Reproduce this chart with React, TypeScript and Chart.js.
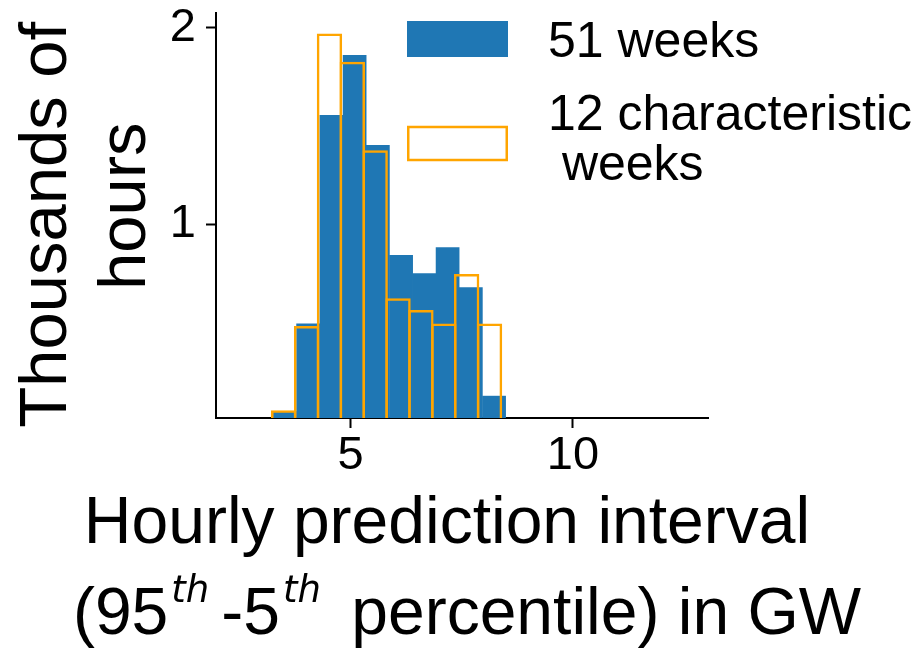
import React, { useEffect, useRef } from "react";
import { Chart, registerables } from "chart.js";

Chart.register(...registerables);

// ---- data (thousands of hours per bin) ----
const blueBinCenters = [3.520, 4.043, 4.566, 5.089, 5.612, 6.135, 6.658, 7.181, 7.704, 8.227];
const blueHeights = [0.050, 0.496, 1.556, 1.861, 1.403, 0.844, 0.751, 0.883, 0.680, 0.128];
const orangeBinCenters = [3.493, 4.008, 4.523, 5.037, 5.552, 6.066, 6.581, 7.096, 7.610, 8.125];
const orangeHeights = [0.055, 0.483, 1.971, 1.827, 1.377, 0.624, 0.564, 0.496, 0.747, 0.496];

const xTickValues = [5, 10];
const yTickValues = [1, 2];
const xRange = [1.97, 13.04];
const yRange = [0.015, 2.075];

const seriesLabels = ["51 weeks", "12 characteristic\n weeks"];
const yTitleLines = ["Thousands of ", " hours"];
const xTitleLine1 = "Hourly prediction interval";
const xTitleLine2 = [
  { text: "(95", sup: false },
  { text: "th", sup: true },
  { text: "-5", sup: false },
  { text: "th", sup: true },
  { text: " percentile) in GW", sup: false },
];

const BLUE = "#1f77b4";
const ORANGE = "#ffa500";
const FONT = '"Liberation Sans", Arial, sans-serif';

const legendAndTitlePlugin = {
  id: "legendAndTitle",
  afterDraw(chart: any) {
    const ctx = chart.ctx;
    const ca = chart.chartArea;
    ctx.save();
    ctx.fillStyle = "#000";
    ctx.textBaseline = "alphabetic";

    // ---- x-axis title ----
    const cx = (ca.left + ca.right) / 2;
    ctx.font = `66px ${FONT}`;
    ctx.textAlign = "center";
    ctx.fillText(xTitleLine1, cx - 15, ca.bottom + 125);

    ctx.textAlign = "left";
    const mainFont = `66px ${FONT}`;
    const supFont = `italic 37px "DejaVu Sans", sans-serif`;
    const widths = xTitleLine2.map((p) => {
      ctx.font = p.sup ? supFont : mainFont;
      return ctx.measureText(p.text).width + (p.sup ? 3 + 12 : 0);
    });
    const total = widths.reduce((a, b) => a + b, 0);
    let x = cx + 5 - total / 2;
    const base2 = ca.bottom + 215.5;
    xTitleLine2.forEach((p, i) => {
      if (p.sup) {
        ctx.font = supFont;
        ctx.fillText(p.text, x + 3, base2 - 32);
      } else {
        ctx.font = mainFont;
        ctx.fillText(p.text, x, base2);
      }
      x += widths[i];
    });

    // ---- legend ----
    const boxLeft = ca.left + 191;
    const boxW = 101;
    const textX = ca.left + 332;
    ctx.fillStyle = BLUE;
    ctx.fillRect(boxLeft, ca.top + 8, boxW, 36);
    ctx.strokeStyle = ORANGE;
    ctx.lineWidth = 2.5;
    ctx.strokeRect(boxLeft + 1.25, ca.top + 114, boxW - 2.5, 33);

    ctx.fillStyle = "#000";
    ctx.font = `50px ${FONT}`;
    ctx.fillText(seriesLabels[0], textX, ca.top + 43.7);
    const lines = seriesLabels[1].split("\n");
    lines.forEach((ln, i) => ctx.fillText(ln, textX, ca.top + 117 + i * 50));
    ctx.restore();
  },
};

const zeroPad = (s: any) => {
  s.paddingTop = 0;
  s.paddingBottom = 0;
  s.paddingLeft = 0;
  s.paddingRight = 0;
};

export default function App() {
  const ref = useRef<HTMLCanvasElement | null>(null);

  useEffect(() => {
    if (!ref.current) return;
    const chart = new Chart(ref.current, {
      type: "bar",
      data: {
        datasets: [
          {
            label: seriesLabels[0],
            data: blueBinCenters.map((c, i) => ({ x: c, y: blueHeights[i] })),
            backgroundColor: BLUE,
            borderWidth: 0,
            grouped: false,
            barPercentage: 1.02,
            categoryPercentage: 1,
            xAxisID: "x",
            order: 2,
            clip: 0,
          } as any,
          {
            label: seriesLabels[1].replace("\n", ""),
            data: orangeBinCenters.map((c, i) => ({ x: c, y: orangeHeights[i] })),
            backgroundColor: "rgba(0,0,0,0)",
            borderColor: ORANGE,
            borderWidth: 2.5,
            borderSkipped: "start",
            grouped: false,
            barPercentage: 1.11,
            categoryPercentage: 1,
            xAxisID: "x2",
            order: 1,
            clip: 0,
          } as any,
        ],
      },
      options: {
        responsive: false,
        animation: false,
        layout: { padding: { top: 13, right: 212, left: 0, bottom: 0 } },
        plugins: { legend: { display: false }, tooltip: { enabled: false } },
        scales: {
          x: {
            type: "linear",
            position: "bottom",
            offset: false,
            min: xRange[0],
            max: xRange[1],
            afterBuildTicks: (s: any) => {
              s.ticks = xTickValues.map((v) => ({ value: v }));
            },
            afterFit: (s: any) => {
              s.height = 232;
              zeroPad(s);
            },
            ticks: {
              color: "#000",
              font: { size: 47, family: FONT },
              padding: 0,
              maxRotation: 0,
              autoSkip: false,
            },
            grid: {
              offset: false,
              drawOnChartArea: false,
              drawTicks: true,
              tickLength: 10,
              tickWidth: 2,
              tickColor: "#000",
            },
            border: { display: true, color: "#000", width: 2 },
          },
          x2: {
            type: "linear",
            position: "bottom",
            display: false,
            offset: false,
            grid: { offset: false },
            min: xRange[0],
            max: xRange[1],
          },
          y: {
            type: "linear",
            min: yRange[0],
            max: yRange[1],
            afterBuildTicks: (s: any) => {
              s.ticks = yTickValues.map((v) => ({ value: v }));
            },
            afterFit: (s: any) => {
              s.width = 216;
              zeroPad(s);
            },
            ticks: {
              color: "#000",
              font: { size: 47, family: FONT },
              padding: 10,
            },
            grid: {
              drawOnChartArea: false,
              drawTicks: true,
              tickLength: 10,
              tickWidth: 2,
              tickColor: "#000",
            },
            border: { display: true, color: "#000", width: 2 },
            title: {
              display: true,
              text: yTitleLines,
              color: "#000",
              font: { size: 67, family: FONT, lineHeight: 1.18 },
              padding: { top: 8, bottom: 0 },
            },
          },
        },
      },
      plugins: [legendAndTitlePlugin],
    } as any);
    return () => chart.destroy();
  }, []);

  return (
    <div style={{ position: "absolute", left: 0, top: 0, width: 920, height: 650, background: "#fff" }}>
      <canvas ref={ref} width={920} height={650} style={{ display: "block" }} />
    </div>
  );
}
